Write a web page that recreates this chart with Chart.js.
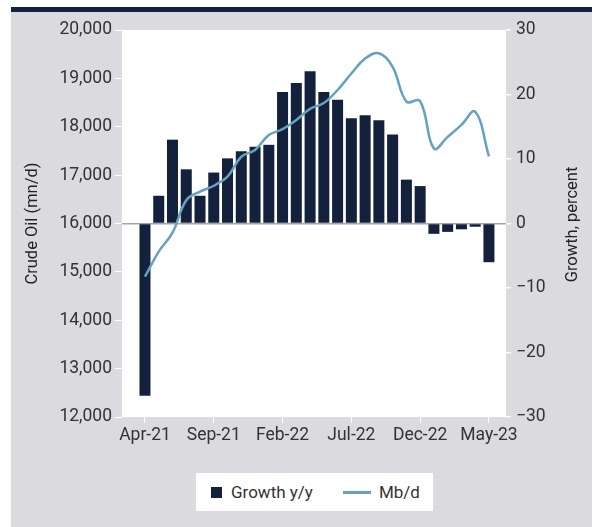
<!DOCTYPE html>
<html>
<head>
<meta charset="utf-8">
<script src="https://cdn.jsdelivr.net/npm/chart.js@4.4.0/dist/chart.umd.min.js"></script>
<style>
  html, body { margin: 0; padding: 0; background: #fff; }
  #frame {
    position: absolute; left: 11px; top: 7px; width: 581px; height: 515px;
    background: #dadadf; border-top: 5px solid #13223f;
  }
  #wrap { position: absolute; left: 0; top: 0; width: 581px; height: 515px; }
  #legend {
    position: absolute; left: 185px; top: 461px; width: 237px; height: 38px;
    background: #fff; display: flex; align-items: center;
    font-family: Roboto, 'Liberation Sans', sans-serif;
    font-size: 17px; color: #333;
  }
  .sq { display: inline-block; width: 11px; height: 11px; background: #13213d; margin: 0 9px 0 15px; }
  .ln { display: inline-block; width: 28px; height: 3px; background: #66a1c1; margin: 0 8px 0 30px; }
</style>
</head>
<body>
<div id="frame">
  <div id="wrap"><canvas id="oilChart"></canvas></div>
  <div id="legend"><span class="sq"></span>Growth y/y<span class="ln"></span>Mb/d</div>
</div>
<script>
// ── DATA ──────────────────────────────────────────────────────────────
const months = ['Apr-21','May-21','Jun-21','Jul-21','Aug-21','Sep-21','Oct-21','Nov-21','Dec-21',
  'Jan-22','Feb-22','Mar-22','Apr-22','May-22','Jun-22','Jul-22','Aug-22','Sep-22','Oct-22','Nov-22','Dec-22',
  'Jan-23','Feb-23','Mar-23','Apr-23','May-23'];
const tickMonths = ['Apr-21','Sep-21','Feb-22','Jul-22','Dec-22','May-23'];

// growth y/y, percent (right axis)
const growth = [-26.7, 4.3, 13.0, 8.4, 4.3, 7.9, 10.1, 11.2, 11.9,
  12.2, 20.4, 21.8, 23.6, 20.4, 19.2, 16.3, 16.8, 16.0, 13.8, 6.8, 5.8,
  -1.6, -1.3, -0.9, -0.5, -6.0];

// crude oil output, thousand b/d (left axis)
const output = [14900, 15420, 15810, 16480, 16660, 16780, 16970, 17380, 17520,
  17830, 17950, 18140, 18370, 18490, 18760, 19100, 19410, 19520, 19240, 18520, 18530,
  17550, 17790, 18040, 18310, 17390];

const NAVY = '#13213d';
const BLUE = '#66a1c1';
const FONT = "Roboto, 'Liberation Sans', sans-serif";

Chart.defaults.font.family = FONT;
Chart.defaults.color = '#333';

// white plot panel + right-hand axis title reading upward
const panel = {
  id: 'panel',
  beforeDraw(chart) {
    const { ctx, chartArea: a } = chart;
    ctx.save();
    ctx.fillStyle = '#fff';
    ctx.fillRect(a.left, a.top, a.right - a.left, a.bottom - a.top);
    ctx.restore();
  },
  afterDraw(chart) {
    const { ctx, chartArea: a } = chart;
    ctx.save();
    ctx.translate(562, (a.top + a.bottom) / 2 + 1);
    ctx.rotate(-Math.PI / 2);
    ctx.font = '16.5px ' + FONT;
    ctx.fillStyle = '#222';
    ctx.textAlign = 'center';
    ctx.textBaseline = 'middle';
    ctx.fillText('Growth, percent', 0, 0);
    ctx.restore();
  }
};

new Chart(document.getElementById('oilChart'), {
  type: 'bar',
  data: {
    datasets: [{
      type: 'line',
      label: 'Mb/d',
      data: output.map((v, i) => ({ x: i, y: v })),
      yAxisID: 'y',
      borderColor: BLUE,
      borderWidth: 2.5,
      pointRadius: 0,
      tension: 0.4,
      order: 0
    }, {
      label: 'Growth y/y',
      data: growth.map((v, i) => ({ x: i, y: v })),
      yAxisID: 'y1',
      backgroundColor: NAVY,
      categoryPercentage: 1,
      barPercentage: 0.8,
      order: 1
    }]
  },
  options: {
    responsive: true, maintainAspectRatio: false,
    animation: false,
    layout: { padding: { top: 18, bottom: 80, left: 0, right: 0 } },
    plugins: { legend: { display: false }, tooltip: { enabled: false } },
    scales: {
      x: {
        type: 'linear', min: -1.67, max: 26.24, offset: false,
        grid: { drawOnChartArea: false, offset: false, tickColor: '#fff', tickLength: 6 },
        border: { display: false },
        afterBuildTicks: s => { s.ticks = tickMonths.map(m => ({ value: months.indexOf(m) })); },
        afterFit: s => { s.height = 30; },
        ticks: { autoSkip: false, maxRotation: 0, padding: 2, font: { size: 17.5 }, color: '#333',
          callback: v => months[v] }
      },
      y: {
        position: 'left', min: 12000, max: 20000,
        grid: { drawOnChartArea: false, tickColor: '#fff', tickLength: 7 },
        border: { display: false },
        afterFit: s => { s.width = 111; },
        ticks: { stepSize: 1000, padding: 3, font: { size: 17.5 }, color: '#333',
          callback: v => v.toLocaleString('en-US') },
        title: { display: true, text: 'Crude Oil (mn/d)', color: '#222', font: { size: 16.5 }, padding: { top: 12, bottom: 0 } }
      },
      y1: {
        position: 'right', min: -30, max: 30,
        grid: {
          drawOnChartArea: true,
          color: c => c.tick && c.tick.value === 0 ? '#a4a4a8' : 'rgba(0,0,0,0)',
          lineWidth: 1.5, tickColor: '#fff', tickLength: 5
        },
        border: { display: false },
        afterFit: s => { s.width = 86; },
        ticks: { stepSize: 10, padding: 5, font: { size: 17.5 }, color: '#333',
          callback: v => v < 0 ? '\u2212' + Math.abs(v) : '' + v }
      }
    }
  },
  plugins: [panel]
});
</script>
</body>
</html>
